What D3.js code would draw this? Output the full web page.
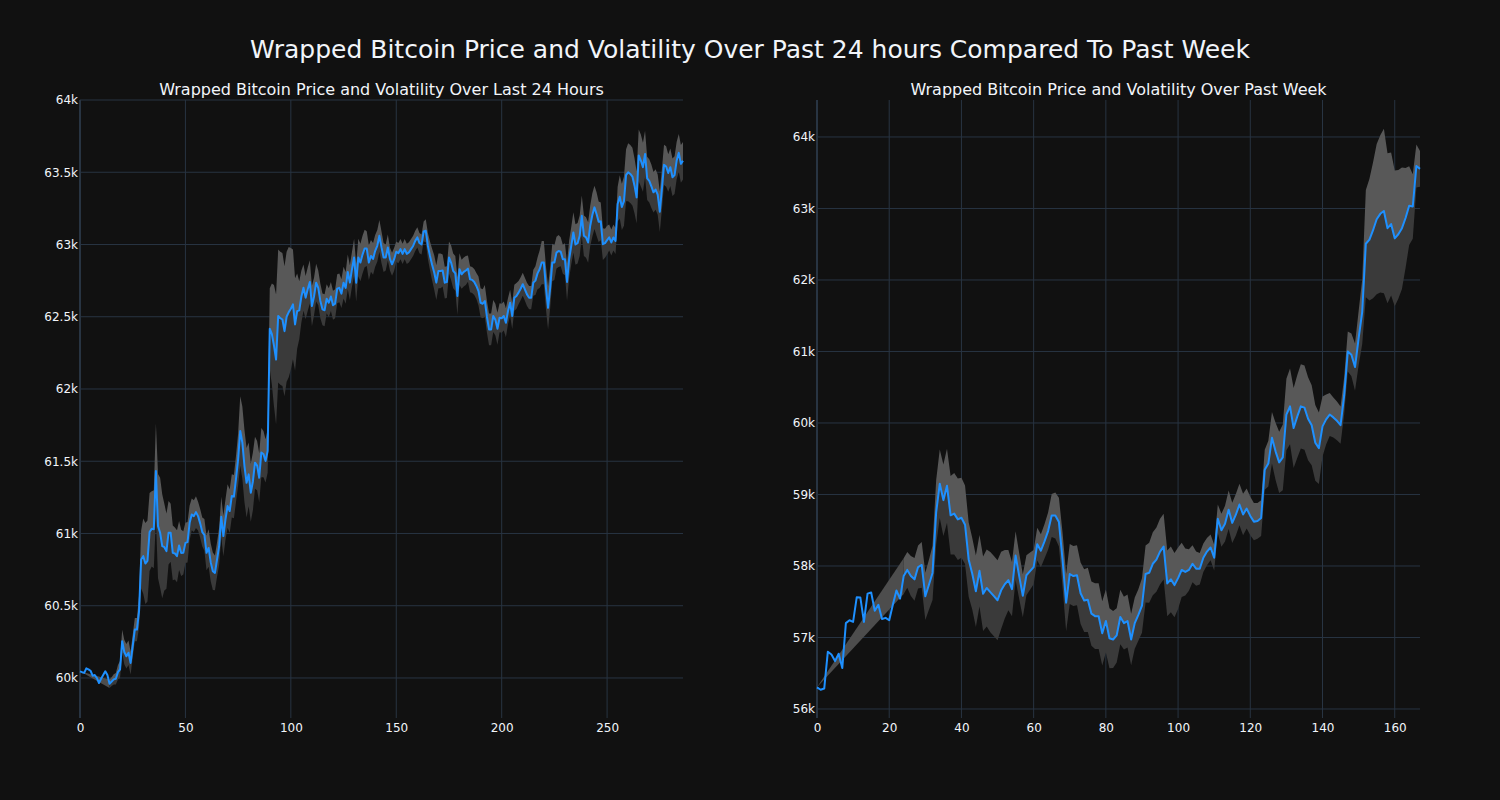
<!DOCTYPE html>
<html><head><meta charset="utf-8">
<script src="https://cdn.jsdelivr.net/npm/d3@7"></script>
<style>
html,body{margin:0;padding:0;background:#111111;}
svg{display:block;}
text{font-family:"DejaVu Sans",Verdana,sans-serif;fill:#f2f5fa;}
</style></head>
<body>
<svg id="chart" width="1500" height="800"></svg>
<script>
// ---------- DATA ----------
const mainTitle = "Wrapped Bitcoin Price and Volatility Over Past 24 hours Compared To Past Week";
const leftTitle = "Wrapped Bitcoin Price and Volatility Over Last 24 Hours";
const rightTitle = "Wrapped Bitcoin Price and Volatility Over Past Week";

const dayPrice = [
60046,60040,60035,60067,60060,60050,60016,60020,60000,59965,
59995,60020,60046,60020,59960,59975,59990,59995,60040,60060,
60254,60180,60150,60175,60104,60220,60335,60335,60460,60820,
60843,60792,60810,61010,61032,61030,61432,61051,61005,60912,
60905,60878,61005,61005,60866,60862,60843,60917,60865,60866,
60935,60940,61074,61132,61120,61148,61120,61070,61010,60990,
60866,60900,60800,60739,60727,60820,60912,61115,60982,61097,
61190,61155,61260,61255,61380,61513,61709,61629,61467,61351,
61409,61282,61360,61490,61470,61386,61560,61550,61502,61571,
62417,62380,62300,62204,62505,62490,62481,62400,62500,62532,
62555,62586,62447,62539,62545,62640,62701,62632,62690,62741,
62574,62640,62736,62700,62609,62551,62545,62625,62597,62640,
62580,62590,62694,62700,62660,62736,62700,62810,62736,62829,
62910,62736,62910,62875,62930,62972,62972,62875,62921,62900,
62956,62991,63060,62980,62910,62910,62979,62900,62863,62898,
62950,62940,62968,62935,62968,62935,62945,62968,62990,63025,
63049,63010,63000,63090,63095,62990,62921,62860,62806,62736,
62817,62817,62820,62736,62740,62910,62875,62817,62800,62644,
62829,62794,62810,62820,62833,62759,62755,62740,62713,62678,
62597,62590,62609,62500,62412,62412,62505,62480,62417,62493,
62490,62505,62458,62539,62597,62505,62632,62644,62667,62694,
62725,62690,62655,62632,62632,62736,62750,62800,62829,62875,
62875,62700,62562,62700,62875,62875,62944,62955,62950,62898,
62898,62741,62898,62991,63083,63000,63009,63060,63199,63060,
63049,63014,63130,63204,63257,63211,63157,63160,63002,63009,
63030,63049,63014,63049,63025,63280,63330,63260,63300,63480,
63500,63488,63470,63407,63326,63616,63581,63535,63627,63458,
63440,63403,63361,63380,63345,63227,63384,63551,63540,63495,
63535,63465,63480,63581,63634,63558,63580];

const dayVol = [
null,null,null,null,null,null,null,null,null,null,
null,null,null,null,30,30,35,40,50,60,
80,85,85,85,80,80,80,80,110,200,
260,280,280,270,260,270,330,360,380,360,
300,260,220,200,190,180,180,170,160,150,
140,140,120,110,110,110,100,100,100,110,
120,130,130,130,120,120,130,140,140,140,
150,150,150,150,160,180,240,250,250,240,
220,200,200,180,170,170,170,160,150,150,
280,350,420,450,460,460,460,450,450,450,
420,380,320,260,200,180,160,150,150,150,
140,130,130,120,120,110,110,100,100,100,
100,100,100,100,100,110,110,120,120,120,
130,130,130,130,130,130,120,120,110,110,
110,110,110,110,100,90,90,80,80,80,
70,70,70,70,70,70,70,70,70,70,
70,70,70,70,80,90,100,110,120,120,
120,120,110,110,110,110,120,120,120,130,
110,100,100,100,90,90,90,90,90,100,
100,100,110,110,110,110,110,110,110,100,
100,100,100,90,90,90,90,90,80,80,
80,80,80,80,80,90,100,110,130,150,
150,150,150,140,130,120,110,110,100,100,
110,130,130,130,140,140,140,140,140,140,
140,140,140,150,150,150,140,130,110,100,
100,90,90,90,90,120,150,160,170,180,
200,200,200,190,180,180,180,170,160,150,
150,150,140,140,140,140,140,140,140,130,
130,130,130,130,130,130,130];

const weekPrice = [
56303,56269,56286,56801,56761,56670,56773,56572,57201,57241,
57218,57562,57560,57218,57613,57630,57373,57458,57258,57275,
57241,57458,57658,57544,57859,57945,57860,57813,57985,58014,
57576,57737,57903,58749,59150,58921,59121,58709,58732,58652,
58675,58577,58091,57891,57646,57932,57612,57692,57635,57578,
57521,57659,57745,57802,57676,58145,57859,57584,57870,57928,
57985,58305,58214,58345,58488,58706,58706,58614,58088,57487,
57888,57859,57870,57619,57516,57527,57333,57298,57298,57058,
57230,56990,56972,57030,57287,57201,57230,56972,57201,57316,
57447,57888,57905,58031,58088,58202,58271,57756,57813,57733,
57830,57945,57916,57945,58031,57962,57962,58116,58202,58259,
58116,58660,58500,58591,58786,58603,58717,58860,58720,58803,
58700,58620,58630,58671,59346,59432,59792,59603,59449,59518,
60118,60233,59929,60089,60233,60215,60060,59969,59723,59648,
59952,60050,60118,60078,60030,59969,60381,60999,60953,60782,
61183,61555,62507,62564,62696,62850,62925,62965,62724,62782,
62582,62639,62724,62867,63039,63028,63594,63554];

const weekVol = [
null,null,null,null,null,null,null,null,null,null,
null,null,null,null,null,null,null,null,null,null,
null,null,null,null,250,250,280,300,300,320,
330,350,380,450,480,500,520,550,570,570,
560,550,520,500,500,500,520,540,560,560,
560,540,480,420,380,340,320,300,280,260,
240,230,230,240,260,300,320,340,380,400,
420,420,420,430,440,450,450,460,460,450,
440,420,400,380,380,370,370,360,360,360,
380,400,420,440,450,460,460,460,460,450,
430,380,330,290,260,240,220,200,190,180,
180,200,230,250,270,280,290,290,290,280,
270,260,250,250,280,320,360,400,430,460,
500,530,560,580,590,590,580,560,530,500,
420,350,300,280,270,260,260,280,300,330,
380,450,750,850,950,1050,1100,1150,1050,1000,
950,900,850,700,550,450,300,250];

const dayYTicks = [60000,60500,61000,61500,62000,62500,63000,63500,64000];
const dayXTicks = [0,50,100,150,200,250];
const weekYTicks = [56000,57000,58000,59000,60000,61000,62000,63000,64000];
const weekXTicks = [0,20,40,60,80,100,120,140,160];

// ---------- DRAW ----------
const svg = d3.select("#chart");
const GRID = "#283442";
const LINE = "#1e90ff";
const UPPER_FILL = "#585858";
const LOWER_FILL = "#3a3a3a";
const GAP_FILL = "#4d4d4d";
const fmt = d3.format("~s");

svg.append("text").attr("x", 750).attr("y", 58).attr("text-anchor", "middle")
  .style("font-size", "25px").text(mainTitle);

function panel(opts) {
  const {price, vol, xDomain, yDomain, xRange, yRange, xTicks, yTicks, title} = opts;
  const x = d3.scaleLinear().domain(xDomain).range(xRange);
  const y = d3.scaleLinear().domain(yDomain).range(yRange);
  const g = svg.append("g");
  const data = price.map((p, i) => ({i, p, v: vol[i]}));

  // grid
  g.append("g").selectAll("line").data(xTicks).join("line")
    .attr("x1", d => x(d)).attr("x2", d => x(d))
    .attr("y1", yRange[0]).attr("y2", yRange[1])
    .attr("stroke", GRID).attr("stroke-width", d => d === 0 ? 2 : 1);
  g.append("g").selectAll("line").data(yTicks).join("line")
    .attr("x1", xRange[0]).attr("x2", xRange[1])
    .attr("y1", d => y(d)).attr("y2", d => y(d))
    .attr("stroke", GRID).attr("stroke-width", 1);

  // band
  const def = data.filter(d => d.v != null);
  const first = def[0];
  const gap = [
    {xx: data[0].i, yy: data[0].p},
    {xx: first.i, yy: first.p + first.v},
    {xx: first.i, yy: first.p - first.v}
  ];
  g.append("path").datum(gap)
    .attr("d", d3.line().x(d => x(d.xx)).y(d => y(d.yy)).curve(d3.curveLinearClosed))
    .attr("fill", GAP_FILL);
  g.append("path").datum(def)
    .attr("d", d3.area().x(d => x(d.i)).y0(d => y(d.p)).y1(d => y(d.p + d.v)))
    .attr("fill", UPPER_FILL);
  g.append("path").datum(def)
    .attr("d", d3.area().x(d => x(d.i)).y0(d => y(d.p - d.v)).y1(d => y(d.p)))
    .attr("fill", LOWER_FILL);

  // price line
  g.append("path").datum(data)
    .attr("d", d3.line().x(d => x(d.i)).y(d => y(d.p)))
    .attr("fill", "none").attr("stroke", LINE).attr("stroke-width", 2)
    .attr("stroke-linejoin", "round");

  // axes labels
  const yAxis = d3.axisLeft(y).tickValues(yTicks).tickFormat(fmt).tickSize(0).tickPadding(2);
  const ya = g.append("g").attr("transform", `translate(${xRange[0]},0)`).call(yAxis);
  ya.select(".domain").remove();
  ya.selectAll("text").style("font-size", "12px").attr("fill", "#f2f5fa");

  const xAxis = d3.axisBottom(x).tickValues(xTicks).tickFormat(d3.format("d")).tickSize(0).tickPadding(5);
  const xa = g.append("g").attr("transform", `translate(0,${yRange[0]})`).call(xAxis);
  xa.select(".domain").remove();
  xa.selectAll("text").style("font-size", "12px").attr("fill", "#f2f5fa");

  g.append("text").attr("x", (xRange[0] + xRange[1]) / 2).attr("y", 95)
    .attr("text-anchor", "middle").style("font-size", "16px").text(title);
}

panel({price: dayPrice, vol: dayVol, xDomain: [0, 286], yDomain: [59723, 64000],
  xRange: [80, 683], yRange: [718, 100], xTicks: dayXTicks, yTicks: dayYTicks, title: leftTitle});
panel({price: weekPrice, vol: weekVol, xDomain: [0, 167], yDomain: [55874, 64517],
  xRange: [817, 1420], yRange: [718, 100], xTicks: weekXTicks, yTicks: weekYTicks, title: rightTitle});
</script>
</body></html>
